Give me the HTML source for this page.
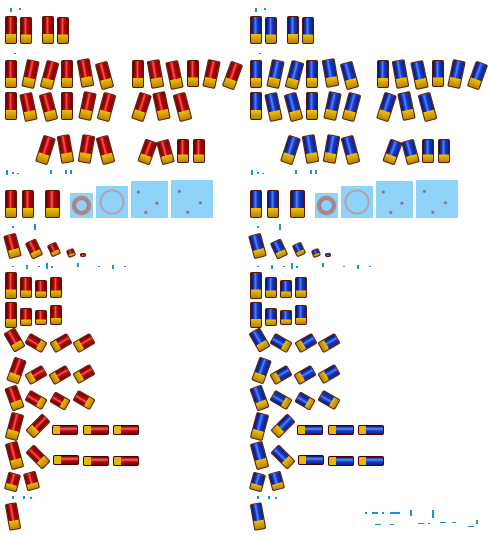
<!DOCTYPE html>
<html><head><meta charset="utf-8"><style>
html,body{margin:0;padding:0;background:#fff;}
#sheet{position:relative;width:490px;height:537px;overflow:hidden;background:#fff;font-family:"Liberation Sans",sans-serif;}
.s{position:absolute;box-sizing:border-box;border:1px solid #5a1a00;border-radius:2px;}
.h{position:absolute;box-sizing:border-box;border:1px solid #4a0000;border-radius:2px;}
.box{position:absolute;background:#8fd3fb;}
.t{position:absolute;background:#1a8fe6;}
</style></head><body>
<div id="sheet"></div>
<script>
// sprite positions: x, y, w, h, rotation(deg)
const shells=[
[5,16,12,28,0],[20,17,12,27,0],[42,16,12,28,0],[57,17,12,27,0],
[5,60,12,28,0],[24,60,13,28,12],[43,61,13,28,15],[61,60,12,28,0],[79,59,13,28,-10],[98,62,13,27,-15],
[132,60,12,28,0],[149,60,13,28,-10],[168,61,13,28,-12],[187,60,12,27,0],[205,60,13,28,12],[226,62,13,27,20],
[5,92,12,28,0],[22,93,13,28,-12],[42,93,13,28,-15],[61,92,12,28,0],[81,92,13,28,12],[100,93,13,28,15],
[135,93,13,28,18],[155,92,13,28,-12],[176,93,13,28,-15],
[39,136,13,28,18],[59,135,13,28,-10],[80,135,13,28,10],[99,136,13,28,-15],
[141,140,13,24,20],[159,140,13,24,-15],[177,139,12,24,0],[193,139,12,24,0],
[5,190,12,28,0],[22,190,12,28,0],[45,190,15,28,0],
[6,234,13,24,-15],[28,240,12,18,-25],[49,243,10,13,-25],[67,249,8,8,-20],[80,253,6,4,0],
[5,272,12,27,0],[20,277,12,21,0],[35,280,12,18,0],[50,277,12,21,0],
[5,302,12,26,0],[20,308,12,18,0],[35,310,12,15,0],[50,305,12,20,0],
[8,329,13,22,-30],[30,333,12,20,-60],[55,333,12,20,60],[78,333,12,20,60],
[10,358,13,25,20],[30,365,12,20,60],[54,365,12,20,60],[78,364,12,20,60],
[8,386,13,24,-20],[30,390,12,20,-60],[54,392,12,18,-60],[78,390,12,20,-60],
[8,413,13,27,15],[32,414,12,24,45],
[8,442,13,27,-15],[32,445,12,24,-45],
[6,473,13,18,15],[25,472,13,18,-15],
[7,503,12,27,-10]
];
const hor=[[52,425,26,10],[83,425,26,10],[113,425,26,10],[53,455,26,10],[83,456,26,10],[113,456,26,10]];
const boxes=[[70,193,23,25],[96,186,32,32],[131,181,37,37],[171,180,42,38]];
const marks=[[10,8,2,4],[19,8,2,2],[14,53,2,1],[6,170,2,5],[12,172,2,2],[17,173,2,1],[50,170,2,4],[65,170,2,4],[70,170,2,4],[12,226,2,2],[34,224,2,6],[12,266,2,1],[26,265,2,4],[38,266,2,1],[46,263,2,6],[51,266,2,2],[77,263,2,4],[98,266,2,1],[112,265,2,4],[124,266,2,1],[12,496,2,3],[23,496,2,3],[30,497,2,2]];
const sheet=document.getElementById('sheet');
const pal={red:['#5e0000','#b80808','#ff5a5a','#7a0000'],blue:['#000f6a','#1a3ec8','#5d86ff','#00218a']};
function draw(off,col){
  const p=pal[col];
  shells.forEach(s=>{
    const d=document.createElement('div');
    
    
    d.className='s';
    d.style.left=(s[0]+off)+'px';d.style.top=s[1]+'px';d.style.width=s[2]+'px';d.style.height=s[3]+'px';
    d.style.transform='rotate('+s[4]+'deg)';
    d.style.background='linear-gradient(to bottom, transparent 66%, #f2c000 66%, #b58300 100%), linear-gradient(to right,'+p[0]+' 0%,'+p[1]+' 30%,'+p[2]+' 45%,'+p[1]+' 60%,'+p[3]+' 100%)';
    sheet.appendChild(d);
  });
  hor.forEach(s=>{
    const d=document.createElement('div');
    
    
    d.className='h';
    d.style.left=(s[0]+off)+'px';d.style.top=s[1]+'px';d.style.width=s[2]+'px';d.style.height=s[3]+'px';
    d.style.background='linear-gradient(to right,#e8b800 0,#e8b800 7px,transparent 7px),linear-gradient(to bottom,'+p[0]+','+p[2]+' 35%,'+p[1]+' 60%,'+p[3]+')';
    sheet.appendChild(d);
  });
  boxes.forEach((b,i)=>{
    const d=document.createElement('div');
    
    
    d.className='box';
    d.style.left=(b[0]+off)+'px';d.style.top=b[1]+'px';d.style.width=b[2]+'px';d.style.height=b[3]+'px';
    if(i==0){d.style.background='radial-gradient(circle,#8fd3fb 30%,#a88080 33%,#b08a8a 55%,#8fd3fb 60%)';}
    if(i==1){d.style.background='radial-gradient(circle,#8fd3fb 45%,#c09090 50%,#8fd3fb 58%)';}
    if(i>=2){d.style.background='radial-gradient(circle at 20% 30%,#907070 1px,transparent 2px),radial-gradient(circle at 70% 60%,#907070 1px,transparent 2px),radial-gradient(circle at 40% 85%,#907070 1px,transparent 2px),#8fd3fb';}
    sheet.appendChild(d);
  });
  marks.forEach(m=>{
    const d=document.createElement('div');
    
    
    d.className='t';
    d.style.left=(m[0]+off)+'px';d.style.top=m[1]+'px';d.style.width=m[2]+'px';d.style.height=m[3]+'px';
    sheet.appendChild(d);
  });
}
draw(0,'red');
draw(245,'blue');
const extra=[[365,512,2,2],[372,512,6,2],[382,512,2,2],[390,512,10,2],[410,510,2,6],[432,510,2,8],[375,524,6,1],[390,524,4,1],[418,523,6,1],[428,523,2,1],[440,522,6,1],[452,522,4,1],[468,526,6,1],[476,520,2,4]];
extra.forEach(m=>{
  const d=document.createElement('div');
  
  
  d.className='t';
  d.style.left=m[0]+'px';d.style.top=m[1]+'px';d.style.width=m[2]+'px';d.style.height=m[3]+'px';
  sheet.appendChild(d);
});
</script>
</body></html>
